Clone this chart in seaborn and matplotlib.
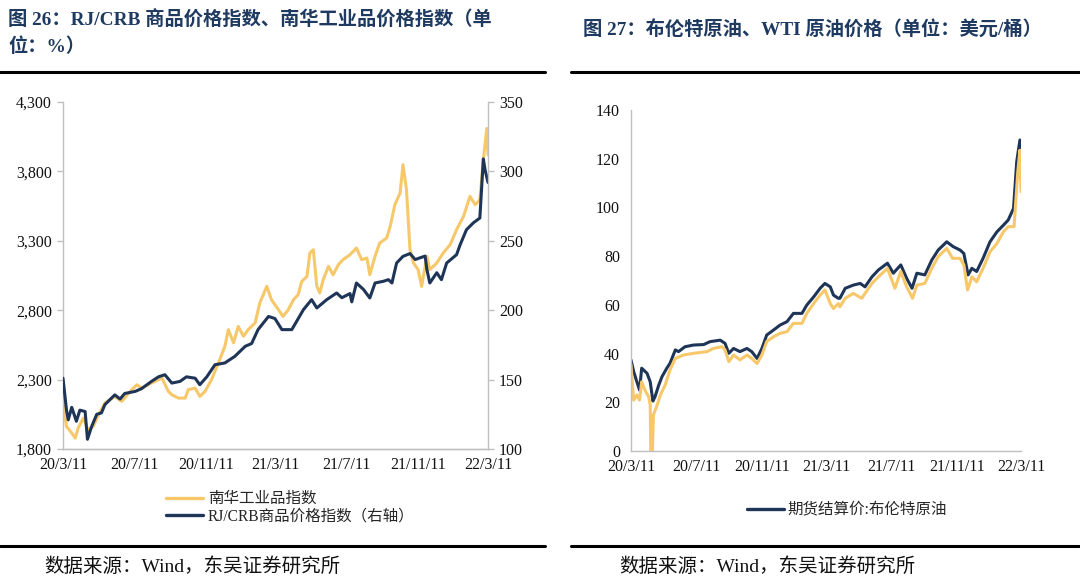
import pandas as pd
import seaborn as sns
import matplotlib.pyplot as plt
import matplotlib.dates as mdates
from matplotlib.lines import Line2D
from matplotlib.ticker import FuncFormatter

# 图26: RJ/CRB (右轴) 与 南华工业品指数
crb_dates = ['2020-03-11', '2020-03-17', '2020-03-20', '2020-03-26', '2020-04-03', '2020-04-09',
             '2020-04-18', '2020-04-22', '2020-04-29', '2020-05-08', '2020-05-16', '2020-05-22',
             '2020-06-08', '2020-06-17', '2020-06-25', '2020-07-13', '2020-07-24', '2020-08-10',
             '2020-08-22', '2020-09-02', '2020-09-14', '2020-09-28', '2020-10-09', '2020-10-24',
             '2020-11-01', '2020-11-13', '2020-11-27', '2020-12-14', '2020-12-31', '2021-01-18',
             '2021-01-29', '2021-02-09', '2021-02-27', '2021-03-10', '2021-03-22', '2021-04-08',
             '2021-04-28', '2021-05-12', '2021-05-21', '2021-06-07', '2021-06-24', '2021-07-03',
             '2021-07-17', '2021-07-20', '2021-07-28', '2021-08-09', '2021-08-20', '2021-08-29',
             '2021-09-12', '2021-09-21', '2021-09-27', '2021-10-05', '2021-10-16', '2021-10-28',
             '2021-11-06', '2021-11-14', '2021-11-23', '2021-11-26', '2021-12-01', '2021-12-13',
             '2021-12-21', '2021-12-30', '2022-01-16', '2022-01-22', '2022-02-02', '2022-02-14',
             '2022-02-25', '2022-03-03', '2022-03-06', '2022-03-11']
crb_values = [151, 128, 121, 130, 120, 128,
              127, 107, 116, 125, 126, 132,
              139, 136, 140, 141.5, 143.5, 148.7,
              152, 153.5, 147.5, 148.7, 152, 151,
              146.3, 152, 160.7, 162, 166.7, 174,
              176, 186, 195.5, 194, 186, 186,
              200.4, 207.6, 201.6, 207.6, 212.4, 209,
              212, 206, 219.6, 215, 208.8, 219.6,
              220.8, 222, 219.6, 234, 238.8, 240.8,
              236.5, 237.7, 239, 229.4, 219.6, 227,
              222, 234, 240, 247, 258, 263,
              266.4, 309, 301, 292]

nanhua_dates = ['2020-03-11', '2020-03-17', '2020-03-26', '2020-04-01', '2020-04-06', '2020-04-15',
                '2020-04-23', '2020-05-02', '2020-05-11', '2020-05-22', '2020-06-08', '2020-06-20',
                '2020-07-07', '2020-07-16', '2020-07-24', '2020-08-10', '2020-08-28', '2020-09-08',
                '2020-09-14', '2020-09-25', '2020-10-07', '2020-10-12', '2020-10-24', '2020-11-01',
                '2020-11-10', '2020-11-21', '2020-12-03', '2020-12-14', '2020-12-20', '2020-12-29',
                '2021-01-06', '2021-01-15', '2021-01-23', '2021-02-04', '2021-02-12', '2021-02-24',
                '2021-03-04', '2021-03-16', '2021-03-24', '2021-04-02', '2021-04-11', '2021-04-19',
                '2021-04-25', '2021-05-04', '2021-05-09', '2021-05-15', '2021-05-21', '2021-05-26',
                '2021-06-01', '2021-06-10', '2021-06-18', '2021-06-27', '2021-07-05', '2021-07-17',
                '2021-07-28', '2021-08-06', '2021-08-15', '2021-08-20', '2021-08-29', '2021-09-06',
                '2021-09-18', '2021-09-24', '2021-10-02', '2021-10-11', '2021-10-16', '2021-10-22',
                '2021-10-28', '2021-11-03', '2021-11-11', '2021-11-17', '2021-11-26', '2021-12-01',
                '2021-12-13', '2021-12-24', '2022-01-05', '2022-01-16', '2022-01-28', '2022-02-08',
                '2022-02-17', '2022-02-25', '2022-03-03', '2022-03-09', '2022-03-11']
nanhua_values = [2140, 1963, 1915, 1879, 1950, 2023,
                 1939, 1963, 2047, 2131, 2179, 2143,
                 2227, 2263, 2239, 2275, 2311, 2215,
                 2191, 2167, 2167, 2227, 2239, 2179,
                 2215, 2299, 2420, 2540, 2660, 2565,
                 2683, 2612, 2660, 2708, 2852, 2972,
                 2876, 2804, 2755, 2804, 2876, 2912,
                 3007, 3043, 3212, 3236, 2972, 2924,
                 3020, 3116, 3055, 3128, 3164, 3200,
                 3248, 3164, 3176, 3056, 3188, 3284,
                 3320, 3404, 3560, 3644, 3848, 3668,
                 3236, 3140, 3092, 2972, 3188, 3092,
                 3140, 3212, 3272, 3380, 3476, 3620,
                 3560, 3596, 3884, 4110, 3920]

# 图27: 布伦特 / WTI 原油 (美元/桶)
brent_dates = ['2020-03-11', '2020-03-16', '2020-03-22', '2020-03-27', '2020-03-31', '2020-04-10',
               '2020-04-16', '2020-04-21', '2020-04-25', '2020-05-02', '2020-05-08', '2020-05-17',
               '2020-05-23', '2020-06-02', '2020-06-08', '2020-06-20', '2020-07-06', '2020-07-25',
               '2020-08-06', '2020-08-25', '2020-09-03', '2020-09-10', '2020-09-19', '2020-10-01',
               '2020-10-14', '2020-10-23', '2020-11-02', '2020-11-11', '2020-11-20', '2020-12-03',
               '2020-12-15', '2020-12-28', '2021-01-09', '2021-01-25', '2021-02-03', '2021-02-16',
               '2021-02-28', '2021-03-09', '2021-03-19', '2021-03-25', '2021-04-03', '2021-04-06',
               '2021-04-16', '2021-05-01', '2021-05-14', '2021-05-23', '2021-06-05', '2021-06-17',
               '2021-07-04', '2021-07-15', '2021-07-29', '2021-08-09', '2021-08-19', '2021-08-28',
               '2021-09-12', '2021-09-25', '2021-10-07', '2021-10-23', '2021-11-04', '2021-11-17',
               '2021-11-24', '2021-12-02', '2021-12-09', '2021-12-18', '2021-12-30', '2022-01-12',
               '2022-01-25', '2022-02-06', '2022-02-15', '2022-02-25', '2022-03-03', '2022-03-09',
               '2022-03-11']
brent_values = [37.4, 32.6, 28.4, 25, 34, 31.9,
                28.4, 20.5, 22.3, 27.1, 30.5, 34,
                36, 41.5, 40.8, 42.8, 43.5, 43.7,
                44.9, 45.5, 44.2, 40.1, 42.1, 40.8,
                42.1, 40.8, 38, 42.1, 47.6, 49.7,
                51.7, 53.1, 56.5, 56.5, 59.9, 63.3,
                66.8, 68.8, 67.4, 64, 62.7, 62.7,
                66.8, 68.1, 68.8, 67.4, 71.5, 74.3,
                77.1, 73, 76.4, 70.9, 66.8, 73,
                72.3, 78.4, 82.5, 85.9, 83.9, 82.5,
                81.1, 72.3, 75, 73.7, 79.1, 85.9,
                90, 92.7, 94.8, 99.6, 118.8, 127.7,
                112]

wti_dates = ['2020-03-11', '2020-03-16', '2020-03-22', '2020-03-27', '2020-03-31', '2020-04-06',
             '2020-04-13', '2020-04-16', '2020-04-17', '2020-04-20', '2020-04-22', '2020-04-29',
             '2020-05-05', '2020-05-14', '2020-05-23', '2020-06-02', '2020-06-17', '2020-07-06',
             '2020-07-31', '2020-08-12', '2020-08-28', '2020-09-03', '2020-09-10', '2020-09-19',
             '2020-10-01', '2020-10-14', '2020-10-23', '2020-11-02', '2020-11-11', '2020-11-20',
             '2020-12-03', '2020-12-15', '2020-12-28', '2021-01-09', '2021-01-25', '2021-02-03',
             '2021-02-16', '2021-02-28', '2021-03-09', '2021-03-19', '2021-03-25', '2021-04-03',
             '2021-04-06', '2021-04-16', '2021-05-01', '2021-05-17', '2021-05-23', '2021-06-05',
             '2021-06-17', '2021-07-04', '2021-07-18', '2021-07-29', '2021-08-09', '2021-08-20',
             '2021-08-28', '2021-09-12', '2021-09-25', '2021-10-07', '2021-10-23', '2021-11-03',
             '2021-11-17', '2021-11-24', '2021-12-01', '2021-12-09', '2021-12-18', '2021-12-30',
             '2022-01-12', '2022-01-25', '2022-02-06', '2022-02-15', '2022-02-26', '2022-03-05',
             '2022-03-09', '2022-03-11']
wti_values = [35.3, 20.9, 23, 20.9, 28.4, 25,
              22.3, 19, 0, 0, 14.8, 18.9,
              23, 27.1, 33.3, 38, 39.4, 40.1,
              40.8, 42.1, 42.8, 41.5, 36.7, 39.4,
              37.4, 39.4, 38, 35.9, 39.4, 44.9,
              46.9, 48.3, 49, 52.4, 52.4, 56.5,
              60.6, 64, 66.1, 60.5, 58.5, 60.5,
              59.2, 62.7, 64.7, 62.7, 64.7, 68.8,
              71.5, 75, 66.8, 73.7, 67.4, 62.7,
              68.1, 68.8, 75, 79.8, 83.2, 79.1,
              79.1, 76.4, 66.1, 71.5, 69.5, 75,
              81.8, 85.2, 90, 92.1, 92.1, 114.7,
              123.5, 106.5]

tick_dates = ['2020-03-11', '2020-07-11', '2020-11-11', '2021-03-11',
              '2021-07-11', '2021-11-11', '2022-03-11']

crb = pd.DataFrame({'date': pd.to_datetime(crb_dates), 'value': crb_values})
nanhua = pd.DataFrame({'date': pd.to_datetime(nanhua_dates), 'value': nanhua_values})
brent = pd.DataFrame({'date': pd.to_datetime(brent_dates), 'value': brent_values})
wti = pd.DataFrame({'date': pd.to_datetime(wti_dates), 'value': wti_values})

sns.set_theme(style='white')
plt.rcParams['font.family'] = ['Liberation Serif', 'Noto Sans CJK SC']

navy = '#1F3557'
yellow = '#F7C86A'
grey = '#BFBFBF'
title_color = '#1F3A60'
W, H = 1080, 583


def date_label(v, pos):
    d = mdates.num2date(v)
    return f"{d.year % 100}/{d.month}/{d.day}"


def style_axis(ax):
    for s in ax.spines.values():
        s.set_color(grey)
        s.set_linewidth(1)
    ax.set_xlim(pd.Timestamp('2020-03-11'), pd.Timestamp('2022-03-11'))
    ax.set_xticks(pd.to_datetime(tick_dates))
    ax.xaxis.set_major_formatter(FuncFormatter(date_label))
    ax.tick_params(axis='x', direction='in', length=4, width=1, color=grey,
                   labelsize=11.5, pad=6, labelcolor='#111111')
    ax.tick_params(axis='y', direction='out', length=4, width=1, color=grey,
                   labelsize=11.5, pad=4, labelcolor='#111111')
    ax.set_xlabel('')
    ax.set_ylabel('')
    ax.grid(False)


fig = plt.figure(figsize=(W / 100, H / 100), dpi=100)

# left chart
ax = fig.add_axes([63 / W, 1 - 449 / H, 425 / W, 347 / H])
ax2 = ax.twinx()
sns.lineplot(data=nanhua, x='date', y='value', ax=ax, color=yellow, linewidth=2.2)
sns.lineplot(data=crb, x='date', y='value', ax=ax2, color=navy, linewidth=2.2)
for a in (ax, ax2):
    style_axis(a)
ax.spines['top'].set_visible(False)
ax2.spines['top'].set_visible(False)
ax.spines['right'].set_visible(False)
ax2.spines['left'].set_visible(False)
ax.set_ylim(1800, 4300)
ax.set_yticks(range(1800, 4301, 500))
ax.yaxis.set_major_formatter(FuncFormatter(lambda v, p: f"{v:,.0f}"))
ax2.set_ylim(100, 350)
ax2.set_yticks(range(100, 351, 50))

fig.legend(handles=[Line2D([], [], color=yellow, lw=2.4),
                    Line2D([], [], color=navy, lw=2.4)],
           labels=['南华工业品指数', 'RJ/CRB商品价格指数（右轴）'],
           loc='upper left', bbox_to_anchor=(166 / W, 1 - 491 / H),
           frameon=False, fontsize=11.2, handlelength=2.4, handletextpad=0.3,
           labelspacing=0.1, borderpad=0, borderaxespad=0)

# right chart
bx = fig.add_axes([631 / W, 1 - 451 / H, 390 / W, 341 / H])
sns.lineplot(data=brent, x='date', y='value', ax=bx, color=navy, linewidth=2.2)
sns.lineplot(data=wti, x='date', y='value', ax=bx, color=yellow, linewidth=2.2)
style_axis(bx)
bx.spines['top'].set_visible(False)
bx.spines['right'].set_visible(False)
bx.set_ylim(0, 140)
bx.set_yticks(range(0, 141, 20))

fig.legend(handles=[Line2D([], [], color=navy, lw=2.4)],
           labels=['期货结算价:布伦特原油'],
           loc='upper left', bbox_to_anchor=(747 / W, 1 - 502 / H),
           frameon=False, fontsize=11.2, handlelength=2.4, handletextpad=0.2,
           borderpad=0, borderaxespad=0)

# titles, rules and sources
fig.text(8 / W, 1 - 20 / H, '图 26：RJ/CRB 商品价格指数、南华工业品价格指数（单',
         fontsize=13.9, fontweight='bold', color=title_color, va='center', ha='left')
fig.text(8 / W, 1 - 47 / H, '位：%）',
         fontsize=13.9, fontweight='bold', color=title_color, va='center', ha='left')
fig.text(583 / W, 1 - 30 / H, '图 27：布伦特原油、WTI 原油价格（单位：美元/桶）',
         fontsize=13.9, fontweight='bold', color=title_color, va='center', ha='left')

for x0, x1 in [(0, 545), (571, 1079)]:
    fig.add_artist(Line2D([x0 / W, x1 / W], [1 - 72 / H] * 2, color='black', lw=2.2,
                          transform=fig.transFigure))
    fig.add_artist(Line2D([x0 / W, x1 / W], [1 - 546 / H] * 2, color='black', lw=2.2,
                          transform=fig.transFigure))

fig.text(44 / W, 1 - 567 / H, '数据来源：Wind，东吴证券研究所',
         fontsize=14, color='#111111', va='center', ha='left')
fig.text(619 / W, 1 - 567 / H, '数据来源：Wind，东吴证券研究所',
         fontsize=14, color='#111111', va='center', ha='left')

fig.savefig('out.png', dpi=100)
